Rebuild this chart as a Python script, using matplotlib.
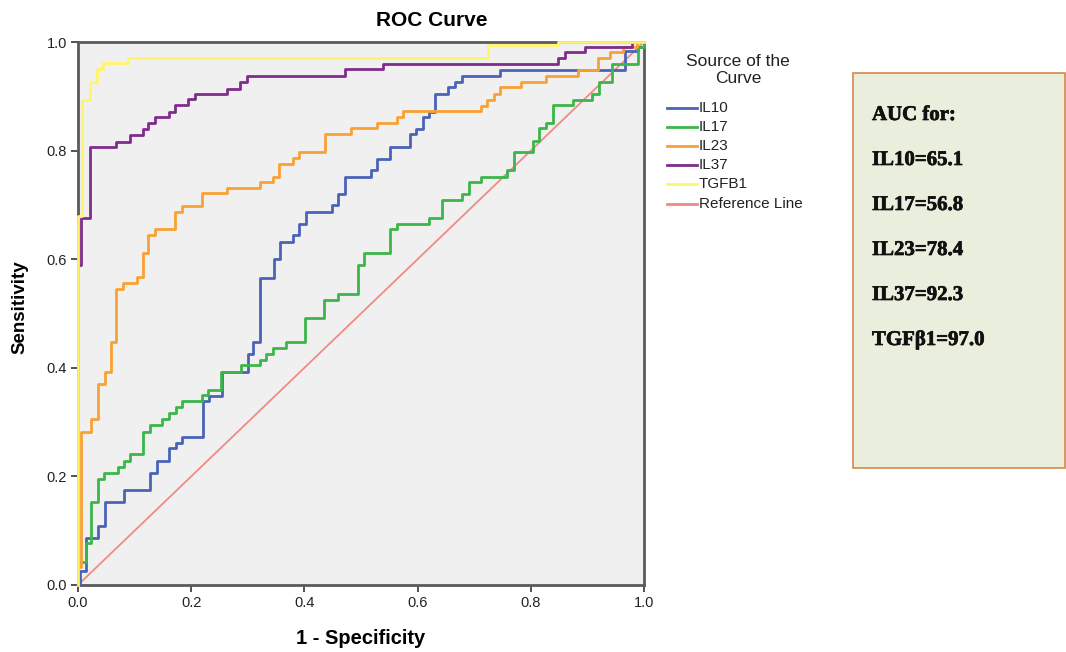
import matplotlib
matplotlib.use("Agg")
import matplotlib.pyplot as plt
from matplotlib.patches import Rectangle
from matplotlib.lines import Line2D
from matplotlib.font_manager import FontProperties
import matplotlib.patheffects as pe

# ROC step vertices: at fpr[k] the curve rises to tpr[k]
il10_fpr = [0.0, 0.004, 0.015, 0.035, 0.048, 0.082, 0.127, 0.139, 0.161, 0.173, 0.184, 0.220, 0.231, 0.254,
            0.300, 0.310, 0.322, 0.347, 0.357, 0.379, 0.390, 0.402, 0.448, 0.460, 0.471, 0.518, 0.528, 0.551,
            0.587, 0.598, 0.610, 0.621, 0.631, 0.654, 0.666, 0.678, 0.746, 0.966, 0.990, 1.0]
il10_tpr = [0.0, 0.026, 0.086, 0.109, 0.153, 0.175, 0.207, 0.229, 0.252, 0.262, 0.273, 0.338, 0.348, 0.393,
            0.425, 0.448, 0.566, 0.600, 0.632, 0.645, 0.664, 0.687, 0.699, 0.720, 0.752, 0.764, 0.784, 0.807,
            0.830, 0.839, 0.862, 0.872, 0.905, 0.917, 0.927, 0.938, 0.948, 0.983, 0.991, 1.0]

il17_fpr = [0.0, 0.0, 0.015, 0.023, 0.035, 0.046, 0.070, 0.082, 0.092, 0.115, 0.127, 0.149, 0.161, 0.173,
            0.184, 0.219, 0.230, 0.253, 0.288, 0.322, 0.333, 0.345, 0.367, 0.401, 0.435, 0.460, 0.495, 0.506,
            0.551, 0.563, 0.621, 0.643, 0.678, 0.690, 0.712, 0.758, 0.770, 0.804, 0.815, 0.827, 0.839, 0.874,
            0.909, 0.921, 0.943, 0.990, 1.0]
il17_tpr = [0.0, 0.043, 0.077, 0.153, 0.196, 0.207, 0.218, 0.228, 0.241, 0.282, 0.295, 0.305, 0.316, 0.328,
            0.339, 0.350, 0.360, 0.393, 0.405, 0.414, 0.425, 0.436, 0.448, 0.491, 0.525, 0.535, 0.589, 0.611,
            0.655, 0.664, 0.676, 0.709, 0.720, 0.743, 0.752, 0.764, 0.797, 0.818, 0.841, 0.851, 0.884, 0.894,
            0.905, 0.927, 0.959, 0.990, 1.0]

il23_fpr = [0.0, 0.0, 0.005, 0.023, 0.035, 0.048, 0.058, 0.068, 0.080, 0.104, 0.115, 0.124, 0.136, 0.171,
            0.183, 0.219, 0.264, 0.322, 0.345, 0.355, 0.379, 0.390, 0.436, 0.482, 0.528, 0.563, 0.575, 0.712,
            0.722, 0.735, 0.746, 0.782, 0.827, 0.884, 0.919, 0.940, 0.963, 0.987, 1.0]
il23_tpr = [0.0, 0.034, 0.282, 0.305, 0.371, 0.393, 0.448, 0.545, 0.556, 0.568, 0.611, 0.645, 0.656, 0.687,
            0.698, 0.721, 0.731, 0.743, 0.752, 0.775, 0.786, 0.797, 0.830, 0.841, 0.850, 0.861, 0.873, 0.883,
            0.894, 0.905, 0.917, 0.927, 0.937, 0.948, 0.970, 0.981, 0.991, 1.0, 1.0]

il37_fpr = [0.0, 0.0, 0.005, 0.021, 0.068, 0.092, 0.115, 0.124, 0.136, 0.160, 0.171, 0.195, 0.207, 0.263,
            0.286, 0.298, 0.471, 0.539, 0.848, 0.860, 0.896, 0.978, 1.0]
il37_tpr = [0.0, 0.589, 0.676, 0.807, 0.816, 0.829, 0.839, 0.850, 0.862, 0.872, 0.884, 0.895, 0.905, 0.914,
            0.927, 0.938, 0.950, 0.959, 0.970, 0.982, 0.991, 1.0, 1.0]

tgfb1_fpr = [0.0, 0.0, 0.0065, 0.021, 0.033, 0.045, 0.089, 0.725, 0.848, 1.0]
tgfb1_tpr = [0.0, 0.680, 0.893, 0.927, 0.951, 0.961, 0.971, 0.994, 1.0, 1.0]

ref_x = [0.0, 1.0]
ref_y = [0.0, 1.0]

series_names = ["IL10", "IL17", "IL23", "IL37", "TGFB1"]
series_colors = ["#4A63B8", "#3CB64A", "#F8A233", "#7F2C8C", "#FFF56B"]
ref_name = "Reference Line"
ref_color = "#F08A86"

auc_lines = ["AUC for:", "IL10=65.1", "IL17=56.8", "IL23=78.4", "IL37=92.3", "TGF\u03b21=97.0"]

xticks = [0.0, 0.2, 0.4, 0.6, 0.8, 1.0]
yticks = [0.0, 0.2, 0.4, 0.6, 0.8, 1.0]

plt.rcParams['font.family'] = ['Liberation Sans', 'DejaVu Sans']

W, H = 1066, 652
fig = plt.figure(figsize=(W / 100, H / 100), dpi=100)
ax = fig.add_axes([78 / W, (H - 585) / H, 566 / W, 543 / H])
ax.set_facecolor("#F0F0F0")

curves = [(il10_fpr, il10_tpr), (il17_fpr, il17_tpr), (il23_fpr, il23_tpr),
          (il37_fpr, il37_tpr), (tgfb1_fpr, tgfb1_tpr)]

ax.plot(ref_x, ref_y, color=ref_color, lw=1.3, zorder=2)
for (fx, ty), c in zip(curves, series_colors):
    ax.plot(fx, ty, drawstyle='steps-post', color=c, lw=2.0, zorder=3, clip_on=False)

ax.set_xlim(0, 1)
ax.set_ylim(0, 1)
ax.set_xticks(xticks)
ax.set_yticks(yticks)
ax.set_xticklabels([f"{t:.1f}" for t in xticks], fontsize=10.5, color="#222222")
ax.set_yticklabels([f"{t:.1f}" for t in yticks], fontsize=10.5, color="#222222")
ax.tick_params(direction='out', length=5, width=1.3, color="#444444", pad=3)
for s in ax.spines.values():
    s.set_color("#5A5A5A")
    s.set_linewidth(2.0)

fig.text(432 / W, 1 - 21 / H, "ROC Curve", fontsize=15, fontweight='bold', ha='center', va='center')
fig.text(361 / W, 1 - 639 / H, "1 - Specificity", fontsize=14.5, fontweight='bold', ha='center', va='center')
fig.text(20 / W, 1 - 307 / H, "Sensitivity", fontsize=13.5, fontweight='bold', ha='center', va='center',
         rotation=90)

# legend (drawn in figure coordinates)
fig.text(738 / W, 1 - 61 / H, "Source of the", fontsize=12.5, ha='center', va='center', color="#222222")
fig.text(738 / W, 1 - 78.5 / H, "Curve", fontsize=12.5, ha='center', va='center', color="#222222")
leg_names = series_names + [ref_name]
leg_colors = series_colors + [ref_color]
for i, (nm, c) in enumerate(zip(leg_names, leg_colors)):
    yy = 1 - (107.5 + 19.2 * i) / H
    fig.add_artist(Line2D([667 / W, 697 / W], [yy, yy], transform=fig.transFigure, color=c, lw=2.0))
    fig.text(699 / W, yy, nm, fontsize=11, ha='left', va='center', color="#222222")

# AUC box
fig.add_artist(Rectangle((853 / W, 1 - 468 / H), (1065 - 853) / W, (468 - 73) / H,
                         transform=fig.transFigure, facecolor="#EAEEDC", edgecolor="#D4894A",
                         lw=1.2))
auc_font = FontProperties(family=['Liberation Serif', 'DejaVu Serif'], weight='bold', size=15)
effects = [pe.withStroke(linewidth=0.5, foreground="#111111")]
y0 = 115
for i, t in enumerate(auc_lines):
    fig.text(872 / W, 1 - (y0 + 45 * i) / H, t, fontproperties=auc_font,
             va='center', ha='left', color="#111111", path_effects=effects)

fig.savefig("out.png", dpi=100)
